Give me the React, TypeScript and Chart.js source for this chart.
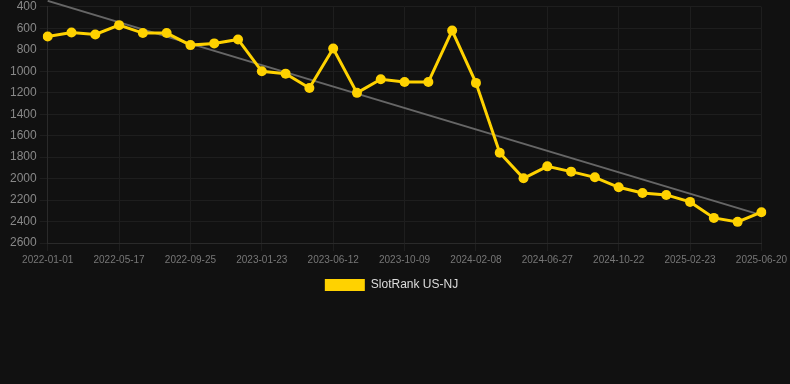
import React, { useEffect, useRef } from "react";
import { Chart, registerables } from "chart.js";

Chart.register(...registerables);

const dateLabels: string[] = [
  "2022-01-01", "2022-02-15", "2022-04-01", "2022-05-17", "2022-06-30", "2022-08-12",
  "2022-09-25", "2022-11-03", "2022-12-13", "2023-01-23", "2023-03-10", "2023-04-27",
  "2023-06-12", "2023-07-22", "2023-08-31", "2023-10-09", "2023-11-18", "2023-12-29",
  "2024-02-08", "2024-03-25", "2024-05-11", "2024-06-27", "2024-08-05", "2024-09-13",
  "2024-10-22", "2024-12-03", "2025-01-13", "2025-02-23", "2025-04-01", "2025-05-10",
  "2025-06-20",
];

const rankValues: number[] = [
  676, 638, 657, 570, 644, 644, 756, 740, 703, 1000, 1022, 1155, 787, 1201, 1074, 1100,
  1100, 620, 1108, 1759, 1997, 1886, 1935, 1988, 2081, 2134, 2152, 2217, 2366, 2403, 2313,
];

// trend line: only its two end values
const trendStart = 344;
const trendEnd = 2340;

const yMin = 400;
const yMax = 2600;
const yStep = 200;

const legendShift = {
  id: "legendShift",
  afterLayout(chart: any) {
    if (chart.legend) chart.legend.right -= 10;
  },
};

export default function App() {
  const ref = useRef<HTMLCanvasElement | null>(null);

  useEffect(() => {
    document.body.style.margin = "0";
    document.body.style.background = "#111111";
    const trend: (number | null)[] = dateLabels.map(() => null);
    trend[0] = trendStart;
    trend[trend.length - 1] = trendEnd;

    Chart.defaults.font.family = 'Arial, "Liberation Sans", Helvetica, sans-serif';
    const chart = new Chart(ref.current as HTMLCanvasElement, {
      type: "line",
      data: {
        labels: dateLabels,
        datasets: [
          {
            label: "SlotRank US-NJ",
            data: rankValues,
            borderColor: "#FFD200",
            backgroundColor: "#FFD200",
            borderWidth: 3,
            pointRadius: 5,
            pointBackgroundColor: "#FFD200",
            pointBorderWidth: 0,
            tension: 0,
            order: 1,
          },
          {
            label: "trend",
            data: trend,
            spanGaps: true,
            borderColor: "#666666",
            borderWidth: 2,
            pointRadius: 0,
            clip: false as any,
            order: 2,
          },
        ],
      },
      plugins: [legendShift],
      options: {
        responsive: false,
        animation: false,
        layout: { padding: { left: 7, right: 4 } },
        plugins: {
          legend: {
            position: "bottom",
            labels: {
              color: "#dddddd",
              boxWidth: 40,
              boxHeight: 12,
              font: { size: 12 },
              filter: (item) => item.text !== "trend",
              generateLabels: (c: any) =>
                Chart.defaults.plugins.legend.labels
                  .generateLabels(c)
                  .map((it: any) => ({ ...it, lineWidth: 0 })),
            },
          },
          tooltip: { enabled: false },
        },
        scales: {
          x: {
            grid: { color: "#1e1e1e", drawTicks: true, tickColor: "#1e1e1e" },
            border: { color: "#2a2a2a" },
            ticks: {
              color: "#777777",
              font: { size: 10 },
              autoSkip: false,
              maxRotation: 0,
              callback: function (_v: any, i: number) {
                return i % 3 === 0 ? dateLabels[i] : null;
              },
            },
          },
          y: {
            reverse: true,
            min: yMin,
            max: yMax,
            grid: { color: "#1e1e1e", tickColor: "#1e1e1e" },
            border: { color: "#2a2a2a" },
            ticks: {
              color: "#888888",
              font: { size: 12, lineHeight: 0.65 },
              stepSize: yStep,
              callback: (v: any) => String(v),
            },
          },
        },
      },
    });
    return () => chart.destroy();
  }, []);

  return (
    <div style={{ width: 790, height: 384, background: "#111111" }}>
      <canvas ref={ref} width={790} height={301} style={{ display: "block" }} />
    </div>
  );
}
